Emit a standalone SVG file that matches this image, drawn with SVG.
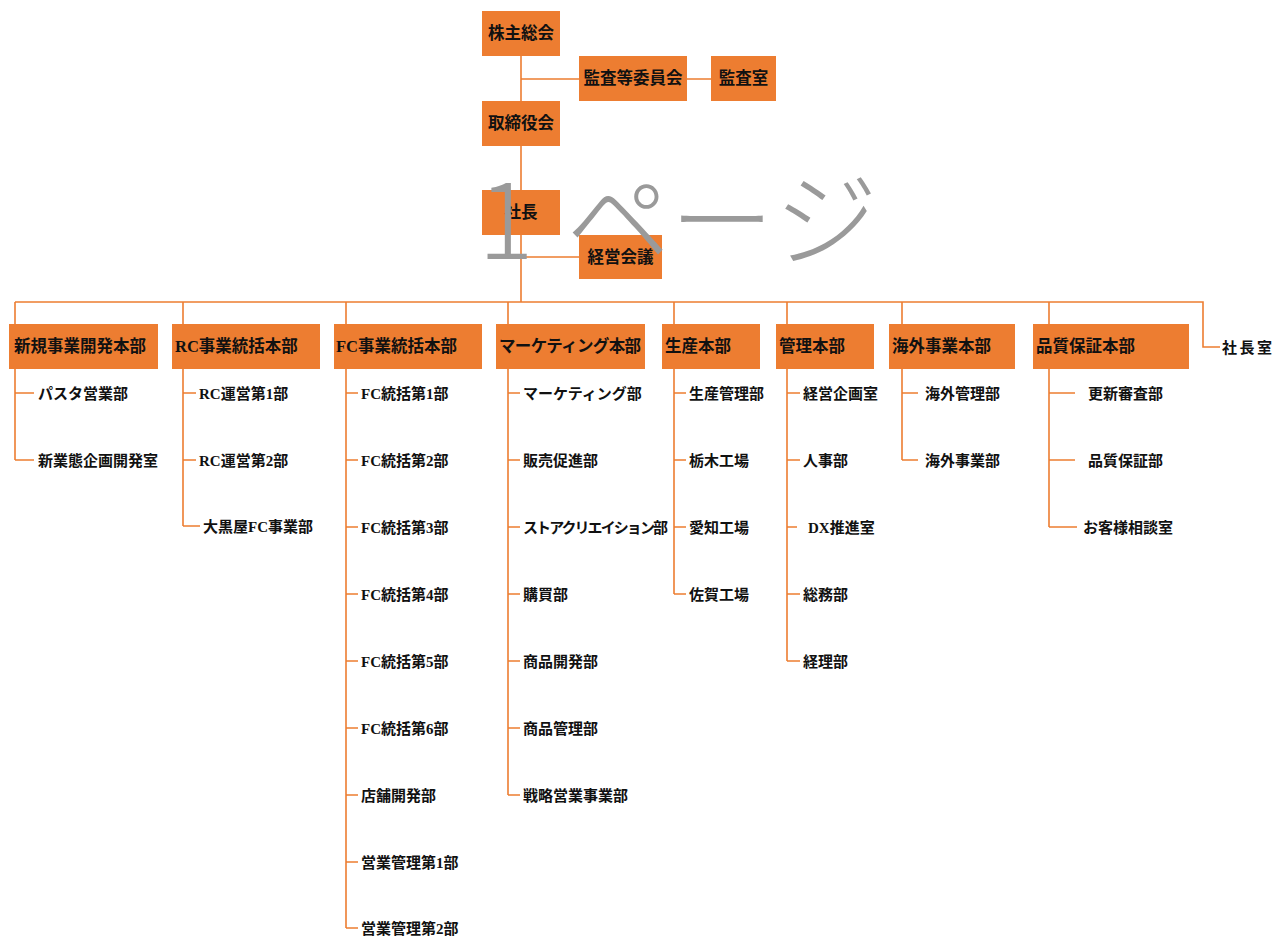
<svg xmlns="http://www.w3.org/2000/svg" width="1287" height="938" viewBox="0 0 1287 938">
<style>
.box{fill:#ED7D31;}
.ln{stroke:#ED7D31;stroke-width:1.6;fill:none;}
.t{font-family:"Liberation Serif","Noto Sans CJK JP",serif;font-weight:bold;font-size:16.5px;fill:#111;}
.c{font-family:"Liberation Serif","Noto Sans CJK JP",serif;font-weight:bold;font-size:15px;fill:#111;}
.mid{text-anchor:middle;}
.wm{font-family:"Noto Sans CJK JP","Noto Sans",sans-serif;font-weight:300;font-size:104px;fill:#9a9a9a;}
</style>
<rect width="1287" height="938" fill="#ffffff"/>
<g id="connectors">
<path class="ln" d="M521 56V302M521 79H579M687 79H711M521 257H579M15 302H1203V347H1220"/>
<path class="ln" d="M15 302V324M183 302V324M346 302V324M508 302V324M674 302V324M787 302V324M902 302V324M1049 302V324"/>
<path class="ln" d="M15 369V460M15 393H34M15 460H34"/>
<path class="ln" d="M183 369V526M183 393H196M183 460H196M183 526H200"/>
<path class="ln" d="M346 369V928M346 393H358M346 460H358M346 527H358M346 594H358M346 661H358M346 728H358M346 795H358M346 862H358M346 928H358"/>
<path class="ln" d="M508 369V795M508 393H520M508 460H520M508 527H520M508 594H520M508 661H520M508 728H520M508 795H520"/>
<path class="ln" d="M674 369V594M674 393H686M674 460H686M674 527H686M674 594H686"/>
<path class="ln" d="M787 369V661M787 393H800M787 460H800M787 527H797M787 594H800M787 661H800"/>
<path class="ln" d="M902 369V460M902 393H918M902 460H918"/>
<path class="ln" d="M1049 369V527M1049 393H1075M1049 460H1075M1049 527H1077"/>
</g>
<g id="kabunushi"><rect class="box" x="482" y="11" width="78" height="45"/><text class="t mid" x="521" y="39">株主総会</text></g>
<g id="kansa-iinkai"><rect class="box" x="579" y="56" width="108" height="45"/><text class="t mid" x="633" y="84">監査等委員会</text></g>
<g id="kansashitsu"><rect class="box" x="711" y="56" width="65" height="45"/><text class="t mid" x="743.5" y="84">監査室</text></g>
<g id="torishimariyakukai"><rect class="box" x="482" y="101" width="78" height="45"/><text class="t mid" x="521" y="129">取締役会</text></g>
<g id="shacho"><rect class="box" x="482" y="190" width="78" height="45"/><text class="t mid" x="521" y="218">社長</text></g>
<g id="keiei-kaigi"><rect class="box" x="579" y="235" width="83" height="44"/><text class="t mid" x="620.5" y="263">経営会議</text></g>
<g id="shachoshitsu"><text class="c" x="1222" y="353" textLength="50">社長室</text></g>
<g id="shinki"><rect class="box" x="9" y="324" width="149" height="45"/><text class="t" x="14" y="352">新規事業開発本部</text>
<text class="c" x="38" y="399">パスタ営業部</text><text class="c" x="38" y="466">新業態企画開発室</text></g>
<g id="rc"><rect class="box" x="172" y="324" width="148" height="45"/><text class="t" x="175" y="352">RC事業統括本部</text>
<text class="c" x="199" y="399">RC運営第1部</text><text class="c" x="199" y="466">RC運営第2部</text><text class="c" x="203" y="532">大黒屋FC事業部</text></g>
<g id="fc"><rect class="box" x="334" y="324" width="148" height="45"/><text class="t" x="336" y="352">FC事業統括本部</text>
<text class="c" x="361" y="399">FC統括第1部</text><text class="c" x="361" y="466">FC統括第2部</text><text class="c" x="361" y="533">FC統括第3部</text><text class="c" x="361" y="600">FC統括第4部</text><text class="c" x="361" y="667">FC統括第5部</text><text class="c" x="361" y="734">FC統括第6部</text><text class="c" x="361" y="801">店舗開発部</text><text class="c" x="361" y="868">営業管理第1部</text><text class="c" x="361" y="934">営業管理第2部</text></g>
<g id="marketing"><rect class="box" x="496" y="324" width="149" height="45"/><text class="t" x="499" y="352" textLength="142">マーケティング本部</text>
<text class="c" x="523" y="399">マーケティング部</text><text class="c" x="523" y="466">販売促進部</text><text class="c" x="523" y="533" textLength="145">ストアクリエイション部</text><text class="c" x="523" y="600">購買部</text><text class="c" x="523" y="667">商品開発部</text><text class="c" x="523" y="734">商品管理部</text><text class="c" x="523" y="801">戦略営業事業部</text></g>
<g id="seisan"><rect class="box" x="662" y="324" width="98" height="45"/><text class="t" x="665" y="352">生産本部</text>
<text class="c" x="689" y="399">生産管理部</text><text class="c" x="689" y="466">栃木工場</text><text class="c" x="689" y="533">愛知工場</text><text class="c" x="689" y="600">佐賀工場</text></g>
<g id="kanri"><rect class="box" x="776" y="324" width="98" height="45"/><text class="t" x="779" y="352">管理本部</text>
<text class="c" x="803" y="399">経営企画室</text><text class="c" x="803" y="466">人事部</text><text class="c" x="808" y="533">DX推進室</text><text class="c" x="803" y="600">総務部</text><text class="c" x="803" y="667">経理部</text></g>
<g id="kaigai"><rect class="box" x="889" y="324" width="126" height="45"/><text class="t" x="892" y="352">海外事業本部</text>
<text class="c" x="925" y="399">海外管理部</text><text class="c" x="925" y="466">海外事業部</text></g>
<g id="hinshitsu"><rect class="box" x="1033" y="324" width="156" height="45"/><text class="t" x="1036" y="352">品質保証本部</text>
<text class="c" x="1088" y="399">更新審査部</text><text class="c" x="1088" y="466">品質保証部</text><text class="c" x="1083" y="533">お客様相談室</text></g>
<g id="watermark"><text class="wm" x="478 566 670 774" y="259">1ページ</text></g>
</svg>
